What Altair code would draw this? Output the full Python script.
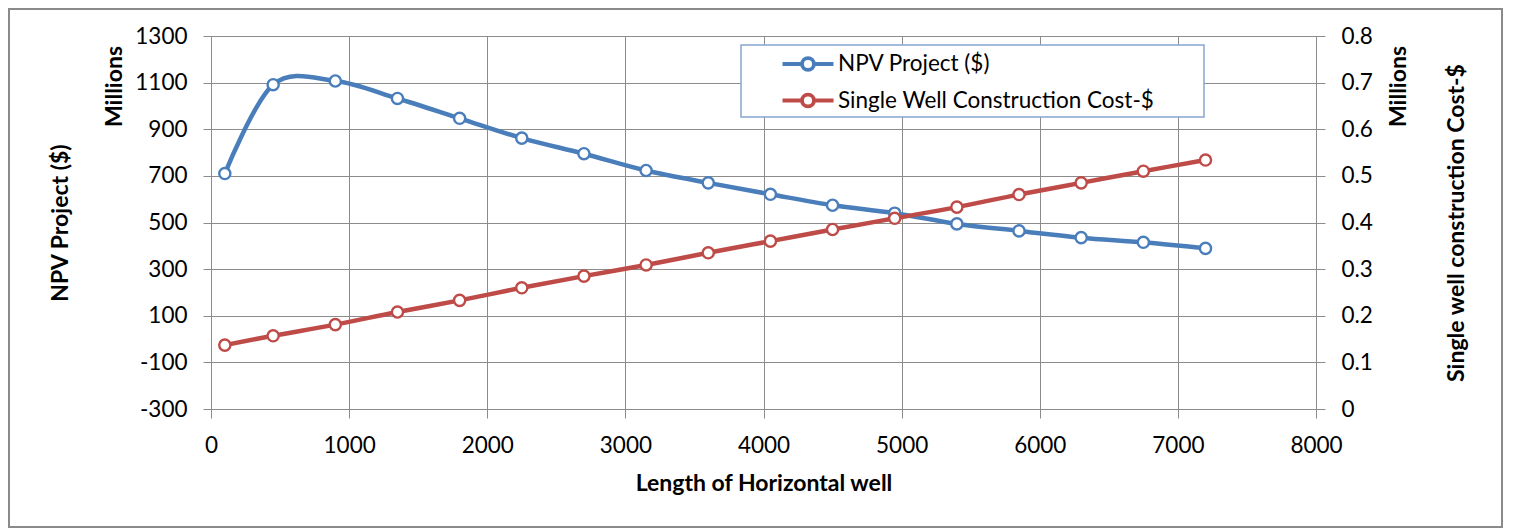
import altair as alt
import pandas as pd

# ---- data ----
lengths = [100, 450, 900, 1350, 1800, 2250, 2700, 3150, 3600, 4050, 4500, 4950, 5400, 5850, 6300, 6750, 7200]
npv_millions = [710, 1091, 1107, 1032, 947, 862, 795, 723, 670, 621, 574, 540, 494, 464, 435, 415, 389]
cost_millions = [0.137, 0.157, 0.181, 0.208, 0.233, 0.260, 0.285, 0.309, 0.335, 0.360, 0.385, 0.409, 0.433, 0.460, 0.485, 0.510, 0.534]
series_names = ["NPV Project ($)", "Single Well Construction Cost-$"]
series_colors = ["#4A7EBB", "#BE4B48"]
x_ticks = [0, 1000, 2000, 3000, 4000, 5000, 6000, 7000, 8000]
left_ticks = [-300, -100, 100, 300, 500, 700, 900, 1100, 1300]
right_ticks = [0, 0.1, 0.2, 0.3, 0.4, 0.5, 0.6, 0.7, 0.8]

FONT = "Lato"
GRID = "#8c8c8c"
W, H = 1105, 373

npv_df = pd.DataFrame({"length": lengths, "value": npv_millions, "series": series_names[0]})
cost_df = pd.DataFrame({"length": lengths, "value": cost_millions, "series": series_names[1]})
one = pd.DataFrame({"k": [0]})

legend_symbol = ("M-3,0L-0.7,0M0.7,0L3,0M-0.7,0A0.7,0.7,0,1,0,0.7,0"
                 "A0.7,0.7,0,1,0,-0.7,0")

x_enc = alt.X(
    "length:Q",
    scale=alt.Scale(domain=[0, 8000], nice=False, zero=False),
    axis=alt.Axis(values=x_ticks, title="Length of Horizontal well", grid=True,
                  tickSize=9, labelPadding=16, labelExpr="'' + datum.value",
                  labelFlush=False, labelOverlap=False,
                  titleY=81, titleBaseline="alphabetic"),
)
y_left = alt.Y(
    "value:Q",
    scale=alt.Scale(domain=[-300, 1300], nice=False, zero=False),
    axis=alt.Axis(orient="left", values=left_ticks, title="NPV Project ($)", grid=True,
                  tickSize=8, labelPadding=16, labelExpr="'' + datum.value",
                  labelFlush=False, labelOverlap=False,
                  titleX=-151, titleY=H / 2, titleAngle=270, titleBaseline="middle",
                  titleAlign="center"),
)
y_right = alt.Y(
    "value:Q",
    scale=alt.Scale(domain=[0, 0.8], nice=False, zero=False),
    axis=alt.Axis(orient="right", values=right_ticks, title="Single well construction Cost-$",
                  grid=False, tickSize=9, labelPadding=16, labelExpr="'' + datum.value",
                  labelFlush=False, labelOverlap=False,
                  titleX=140, titleY=H / 2, titleAngle=270, titleBaseline="middle",
                  titleAlign="center"),
)

color_enc = alt.Color(
    "series:N",
    scale=alt.Scale(domain=series_names, range=series_colors),
    legend=alt.Legend(title=None, orient="none", legendX=585.75, legendY=16.75,
                      direction="vertical", symbolType=legend_symbol, symbolSize=289,
                      symbolStrokeWidth=3.8, symbolFillColor="white",
                      labelFont=FONT, labelFontSize=22.5, labelColor="#000000",
                      labelOffset=18.75, rowPadding=8.5, padding=0, symbolOffset=0,
                      labelLimit=1000),
)
stroke_enc = alt.Stroke(
    "series:N",
    scale=alt.Scale(domain=series_names, range=series_colors),
    legend=None,
)

def series_layer(df, y_enc):
    line = alt.Chart(df).mark_line(interpolate="cardinal", strokeWidth=4.5).encode(
        x=x_enc, y=y_enc, color=color_enc)
    pts = alt.Chart(df).mark_point(shape="circle", filled=True, fill="white", size=125,
                                   strokeWidth=2.4, opacity=1).encode(
        x=x_enc, y=y_enc, stroke=stroke_enc)
    return alt.layer(line, pts)

border = alt.Chart(one).mark_rect(filled=False, stroke="#8a8a8a", strokeWidth=2).encode(
    x=alt.value(-202), x2=alt.value(1291), y=alt.value(-27), y2=alt.value(491))
legend_box = alt.Chart(one).mark_rect(fill="white", stroke="#86a5d0", strokeWidth=1.5).encode(
    x=alt.value(530), x2=alt.value(993), y=alt.value(9), y2=alt.value(81))
millions_left = alt.Chart(one).mark_text(angle=270, font=FONT, fontWeight="bold", fontSize=23,
                                         align="center", baseline="middle", color="#000000").encode(
    x=alt.value(-96.5), y=alt.value(50.5), text=alt.value("Millions"))
millions_right = alt.Chart(one).mark_text(angle=270, font=FONT, fontWeight="bold", fontSize=23,
                                          align="center", baseline="middle", color="#000000").encode(
    x=alt.value(1188), y=alt.value(50.5), text=alt.value("Millions"))

chart = alt.layer(
    border, legend_box,
    series_layer(npv_df, y_left),
    series_layer(cost_df, y_right),
    millions_left, millions_right,
).resolve_scale(y="independent").properties(
    width=W, height=H,
    autosize=alt.AutoSizeParams(type="none"),
    padding={"left": 203, "top": 28, "right": 188, "bottom": 120},
    background="white",
).configure_view(strokeWidth=0).configure_axis(
    labelFont=FONT, labelFontSize=22.5, labelColor="#000000",
    titleFont=FONT, titleFontSize=23, titleFontWeight="bold", titleColor="#000000",
    domainColor=GRID, tickColor=GRID, gridColor=GRID, gridWidth=1, domainWidth=1, tickWidth=1,
    gridOpacity=1,
)

chart.save("out.html", embed_options={"renderer": "svg", "actions": False})
